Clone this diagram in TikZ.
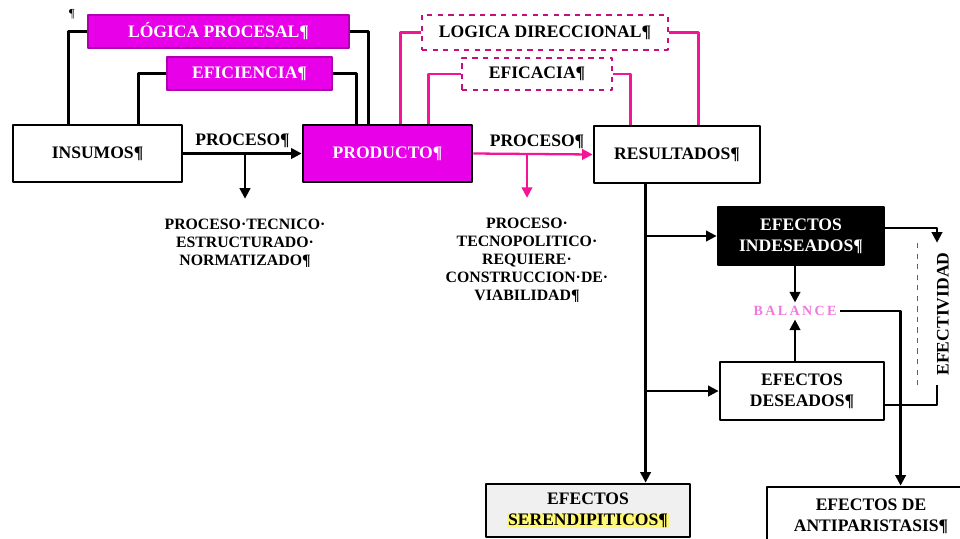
\documentclass[tikz,border=0pt]{standalone}
\usepackage{fontspec}
\setmainfont{Liberation Serif}
\usetikzlibrary{arrows.meta,calc}

\definecolor{diagMagenta}{RGB}{232,0,232}
\definecolor{diagPink}{RGB}{245,20,150}
\definecolor{diagFaint}{RGB}{240,120,220}

\begin{document}
\begin{tikzpicture}
% flow chart laid out on a pixel grid
\def\px{0.02cm}
\providecommand{\diagLineWidth}{1.3pt}
\providecommand{\diagBoxLineWidth}{1.6pt}
\tikzset{
  every node/.style={font=\bfseries\fontsize{10}{12}\selectfont, align=center, inner sep=1pt},
  plainbox/.style={draw=black, line width=\diagBoxLineWidth, fill=white, text=black},
  magbox/.style={fill=diagMagenta, draw=diagMagenta!75!black, line width=0.8pt, text=white},
  dashbox/.style={draw=diagPink!80!black, dashed, line width=0.7pt, fill=white, text=black},
  darkbox/.style={fill=black, draw=black, line width=\diagBoxLineWidth, text=white},
  note/.style={font=\bfseries\fontsize{9}{10.2}\selectfont},
  link/.style={draw=black, line width=\diagLineWidth},
  pinklink/.style={draw=diagPink, line width=\diagLineWidth},
  tip/.style={-{Triangle[length=6pt,width=6pt]}},
}
\begin{scope}[x=\px, y=-\px, line join=round]
  \useasboundingbox (0,0) rectangle (960,538);
  % Top row
  \node[plainbox, minimum width=169*\px, minimum height=57*\px] (insumos) at (97.5,153.5) {INSUMOS¶};
  \node[magbox, minimum width=261*\px, minimum height=33*\px] (procesal) at (218.5,31.5) {LÓGICA PROCESAL¶};
  \node[magbox, minimum width=165*\px, minimum height=33*\px] (eficiencia) at (249.5,73.5) {EFICIENCIA¶};
  \node[magbox, draw=black, line width=\diagBoxLineWidth, minimum width=169*\px, minimum height=57*\px] (producto) at (387.5,153.5) {PRODUCTO¶};
  \node[dashbox, minimum width=246*\px, minimum height=35*\px] (direccional) at (545,32.5) {LOGICA DIRECCIONAL¶};
  \node[dashbox, minimum width=150*\px, minimum height=32*\px] (eficacia) at (537,74) {EFICACIA¶};
  \node[plainbox, minimum width=166*\px, minimum height=57*\px] (resultados) at (677,154.5) {RESULTADOS¶};
  \node[font=\fontsize{7}{7}\selectfont] (mark) at (72,14) {¶};
  % Effects
  \node[darkbox, minimum width=166*\px, minimum height=58*\px] (indeseados) at (801,236) {EFECTOS\\INDESEADOS¶};
  \node[plainbox, minimum width=164*\px, minimum height=58*\px] (deseados) at (802,391) {EFECTOS\\DESEADOS¶};
  \node[text=diagFaint, font=\bfseries\fontsize{8}{9}\selectfont, inner sep=2pt] (balance) at (795,311) {B\,A\,L\,A\,N\,C\,E};
  \node[rotate=90, minimum width=142*\px, minimum height=50*\px] (efectividad) at (943,314) {EFECTIVIDAD};
  \draw[draw=diagMagenta, dashed, line width=0.9pt] (efectividad.north west) -- (efectividad.north east);
  \node[plainbox, fill=black!6, minimum width=204*\px, minimum height=53*\px] (serendipiticos) at (588,510.5)
    {EFECTOS\\{\setlength\fboxsep{0.5pt}\colorbox{yellow!55}{SERENDIPITICOS¶}}};
  \node[plainbox, minimum width=208*\px, minimum height=58*\px] (antiperistasis) at (871,516) {EFECTOS DE\\ANTIPARISTASIS¶};
  % Process notes
  \node (lbl1) at (242.5,141) {PROCESO¶};
  \node (lbl2) at (537,142) {PROCESO¶};
  \node[note] (note1) at (245,243) {PROCESO·TECNICO·\\ESTRUCTURADO·\\NORMATIZADO¶};
  \node[note] (note2) at (527,260) {PROCESO·\\TECNOPOLITICO·\\REQUIERE·\\CONSTRUCCION·DE·\\VIABILIDAD¶};
  \coordinate (split1) at (note1.north |- insumos.east);
  \coordinate (split2) at (note2.north |- producto.east);
  \coordinate (trunk) at ($(resultados.south west)+(53,0)$);
  % Black feedback lines
  \draw[link] ($(insumos.north west)+(57,0)$) |- (procesal.west);
  \draw[link] (procesal.east) -| ($(producto.north west)+(67,0)$);
  \draw[link] ($(insumos.north west)+(127,0)$) |- (eficiencia.west);
  \draw[link] (eficiencia.east) -| ($(producto.north west)+(55,0)$);
  \draw[link, tip] (insumos.east) -- (producto.west);
  \draw[link, tip, shorten >=18*\px] (split1) -- (note1.north);
  % Pink feedback lines
  \draw[pinklink] ($(producto.north west)+(99,0)$) |- (direccional.west);
  \draw[pinklink] (direccional.east) -| ($(resultados.north west)+(106,0)$);
  \draw[pinklink] ($(producto.north west)+(127,0)$) |- (eficacia.west);
  \draw[pinklink] (eficacia.east) -| ($(resultados.north west)+(38,0)$);
  \draw[pinklink, tip] (producto.east) -- (resultados.west);
  \draw[pinklink, tip, shorten >=18*\px] (split2) -- (note2.north);
  % Results branch
  \draw[link, tip] (trunk) -- (trunk |- serendipiticos.north);
  \draw[link, tip] (trunk |- indeseados.west) -- (indeseados.west);
  \draw[link, tip] (trunk |- deseados.west) -- (deseados.west);
  \draw[link, tip] (indeseados.south -| balance) -- (balance.north);
  \draw[link, tip] (deseados.north -| balance) -- (balance.south);
  \draw[link, tip] (balance.east) -| ($(antiperistasis.north west)+(135,0)$);
  \draw[link, tip] ([yshift=8*\px]indeseados.east) -| ($(efectividad.east)+(-6,0)$);
  \draw[link] ([yshift=-14*\px]deseados.east) -| ($(efectividad.west)+(-6,0)$);
\end{scope}
\end{tikzpicture}
\end{document}
